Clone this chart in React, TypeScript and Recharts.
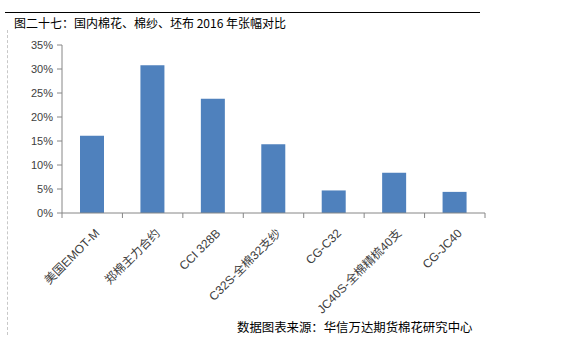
import React from "react";
import { BarChart, Bar, XAxis, YAxis } from "recharts";

const categories = ["美国EMOT-M", "郑棉主力合约", "CCI 328B", "C32S-全棉32支纱", "CG-C32", "JC40S-全棉精梳40支", "CG-JC40"];
const changes = [16.1, 30.8, 23.8, 14.3, 4.7, 8.4, 4.4];
const yTicks = [0, 5, 10, 15, 20, 25, 30, 35];

const data = categories.map((name, i) => ({ name, value: changes[i] }));

const CJK = "'Liberation Sans', 'Noto Sans CJK SC', sans-serif";

const XTick = (props: any) => {
  const { x, y, payload, index, visibleTicksCount, width } = props;
  const half =
    payload && typeof payload.offset === "number" && payload.offset > 0
      ? payload.offset
      : width / (visibleTicksCount || categories.length) / 2;
  const isLast = index === (visibleTicksCount || categories.length) - 1;
  return (
    <g>
      <line x1={x - half} x2={x - half} y1={y} y2={y + 5} stroke="#868686" />
      {isLast && <line x1={x + half} x2={x + half} y1={y} y2={y + 5} stroke="#868686" />}
      <g transform={`translate(${x + 8},${y + 21})`}>
        <text x={0} y={0} textAnchor="end" transform="rotate(-45)" fontSize={12} fill="#404040" fontFamily={CJK}>
          {payload.value}
        </text>
      </g>
    </g>
  );
};

export default function App() {
  return (
    <div style={{ position: "absolute", left: 0, top: 0, width: 561, height: 353, background: "#fff" }}>
      <div style={{ position: "absolute", left: 5, top: 12, width: 475, height: 1, background: "#000" }} />
      <div style={{ position: "absolute", left: 7, top: 30, height: 305, width: 0, borderLeft: "1px dashed #c8c8c8" }} />
      <div style={{ position: "absolute", left: 14, top: 15, fontSize: 12, fontFamily: "'Noto Sans CJK SC', sans-serif", color: "#000", whiteSpace: "nowrap", lineHeight: "16px" }}>
        图二十七：国内棉花、棉纱、坯布 2016 年张幅对比
      </div>
      <BarChart width={561} height={353} data={data} margin={{ top: 45, right: 76, left: 0, bottom: 0 }} barSize={24}>
        <YAxis
          width={62}
          domain={[0, 35]}
          ticks={yTicks}
          tickFormatter={(v: number) => `${v}%`}
          axisLine={{ stroke: "#868686" }}
          tickLine={{ stroke: "#868686" }}
          tickSize={5}
          tickMargin={4}
          tick={{ fontSize: 11, fill: "#404040", fontFamily: CJK }}
          interval={0}
        />
        <XAxis
          dataKey="name"
          height={140}
          axisLine={{ stroke: "#868686" }}
          tickLine={false}
          tickSize={0}
          tickMargin={0}
          tick={<XTick />}
          interval={0}
        />
        <Bar dataKey="value" fill="#4F81BD" isAnimationActive={false} />
      </BarChart>
      <div style={{ position: "absolute", left: 237, top: 319, fontSize: 12.4, fontFamily: "'Noto Sans CJK SC', sans-serif", color: "#000", whiteSpace: "nowrap", lineHeight: "16px" }}>
        数据图表来源：华信万达期货棉花研究中心
      </div>
    </div>
  );
}
